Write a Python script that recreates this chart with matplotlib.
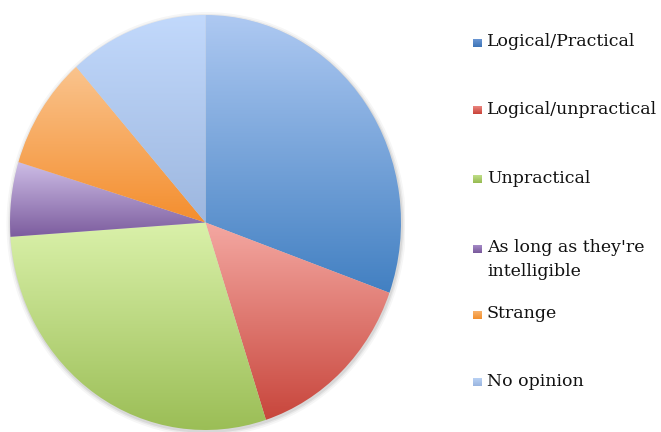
import numpy as np
import matplotlib
matplotlib.use("Agg")
import matplotlib.pyplot as plt
from matplotlib.patches import Wedge
from matplotlib.colors import to_rgb

labels = ["Logical/Practical", "Logical/unpractical", "Unpractical",
          "As long as they're\nintelligible", "Strange", "No opinion"]
values = [30.5, 14.5, 28.9, 5.8, 8.8, 11.5]

top_colors = ["#AEC9F2", "#F4A8A2", "#DAF1AA", "#CDBDE6", "#FAC48E", "#C2D9FC"]
bot_colors = ["#4280C2", "#C8463C", "#9BBE56", "#7C5C9E", "#F48E2E", "#9DB7DF"]
legend_top = ["#6E9AD6", "#EE8C86", "#C4E28E", "#A98FCB", "#F9B673", "#BDD4F6"]
legend_bot = ["#3F75B8", "#C9443A", "#97BB52", "#7A5A9C", "#F2902E", "#9AB6E0"]

W, H = 661, 432
fig = plt.figure(figsize=(W / 100, H / 100), dpi=100)
fig.patch.set_facecolor("white")

cx, cy = 205.5, 222.5
rx, ry = 195.5, 207.5
sx = 2.04 / 2.0
ax = fig.add_axes([(cx - rx * sx) / W, (H - cy - ry * sx) / H,
                   2 * rx * sx / W, 2 * ry * sx / H])
ax.set_aspect("auto")
ax.axis("off")

# soft shadow
for k, a in zip([1.022, 1.013, 1.006], [0.035, 0.05, 0.07]):
    ax.add_patch(Wedge((0.004, -0.008), k, 0, 360, facecolor="black", alpha=a,
                       edgecolor="none", zorder=0))

total = sum(values)
start = 90.0
for v, ct, cb in zip(values, top_colors, bot_colors):
    sweep = 360.0 * v / total
    t1, t2 = start - sweep, start
    w = Wedge((0, 0), 1.0, t1, t2, facecolor="none", edgecolor="none", zorder=2)
    ax.add_patch(w)
    th = np.radians(np.linspace(t1, t2, 200))
    xs = np.concatenate([[0], np.cos(th)])
    ys = np.concatenate([[0], np.sin(th)])
    y0, y1 = ys.min(), ys.max()
    x0, x1 = xs.min(), xs.max()
    t = np.linspace(0, 1, 256)[:, None]
    img = (np.array(to_rgb(cb)) * (1 - t) + np.array(to_rgb(ct)) * t)[:, None, :]
    im = ax.imshow(img, extent=[x0, x1, y0, y1], origin="lower",
                   aspect="auto", zorder=2, interpolation="bilinear")
    im.set_clip_path(w)
    start = t1

ax.set_xlim(-1.02, 1.02)
ax.set_ylim(-1.02, 1.02)

# legend
leg_y = [43, 110, 179, 249, 315, 382]
fs = 12.5
for lab, ct, cb, y in zip(labels, legend_top, legend_bot, leg_y):
    lax = fig.add_axes([473 / W, (H - y - 4.5) / H, 9 / W, 9 / H])
    t = np.linspace(0, 1, 16)[:, None]
    img = (np.array(to_rgb(cb)) * (1 - t) + np.array(to_rgb(ct)) * t)[:, None, :]
    lax.imshow(img, origin="lower", aspect="auto", extent=[0, 1, 0, 1])
    lax.axis("off")
    fig.text(487 / W, (H - y + 1) / H, lab.split("\n")[0], fontsize=fs,
             family="DejaVu Serif", va="center", ha="left", color="#111111")
    if "\n" in lab:
        fig.text(487 / W, (H - y - 22) / H, lab.split("\n")[1], fontsize=fs,
                 family="DejaVu Serif", va="center", ha="left", color="#111111")

fig.savefig("out.png", dpi=100, facecolor="white")
